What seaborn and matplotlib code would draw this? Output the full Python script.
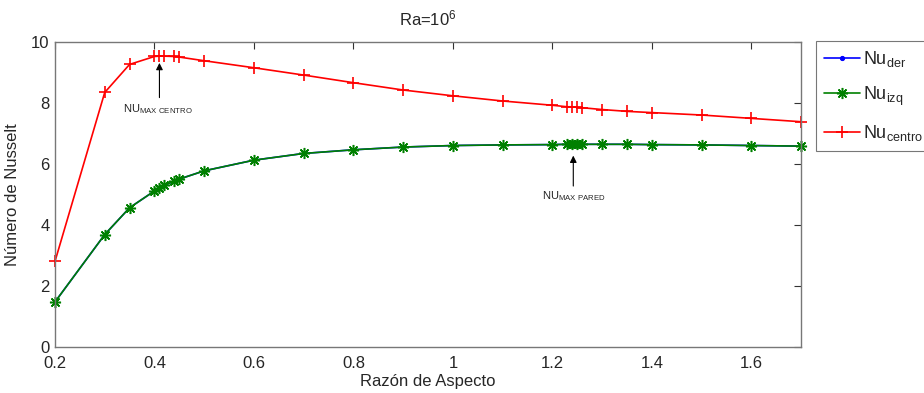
import matplotlib
matplotlib.use("Agg")
import matplotlib.pyplot as plt
import seaborn as sns
import pandas as pd
import numpy as np

# Aspect ratios (x) shared by all series
aspect = [0.2, 0.3, 0.35, 0.4, 0.41, 0.42, 0.44, 0.45, 0.5, 0.6, 0.7, 0.8, 0.9,
          1.0, 1.1, 1.2, 1.23, 1.24, 1.25, 1.26, 1.3, 1.35, 1.4, 1.5, 1.6, 1.7]

nu_centro = [2.82, 8.36, 9.28, 9.54, 9.55, 9.55, 9.54, 9.52, 9.40, 9.17, 8.93,
             8.68, 8.44, 8.25, 8.08, 7.94, 7.89, 7.89, 7.87, 7.86, 7.80, 7.74,
             7.70, 7.62, 7.51, 7.40]

nu_izq = [1.49, 3.70, 4.58, 5.13, 5.23, 5.32, 5.45, 5.52, 5.79, 6.14, 6.36,
          6.48, 6.57, 6.62, 6.64, 6.65, 6.66, 6.66, 6.66, 6.66, 6.66, 6.66,
          6.65, 6.64, 6.62, 6.60]

# right wall is symmetric with the left one
nu_der = list(nu_izq)

xticks = [0.2, 0.4, 0.6, 0.8, 1.0, 1.2, 1.4, 1.6]
xtick_labels = ["0.2", "0.4", "0.6", "0.8", "1", "1.2", "1.4", "1.6"]
yticks = [0, 2, 4, 6, 8, 10]

sns.set_style("white")
plt.rcParams['font.family'] = ['Liberation Sans', 'DejaVu Sans']
plt.rcParams['mathtext.fontset'] = 'custom'
plt.rcParams['mathtext.rm'] = 'Liberation Sans'
plt.rcParams['mathtext.it'] = 'Liberation Sans'

df = pd.DataFrame({"aspect": aspect, "der": nu_der, "izq": nu_izq, "centro": nu_centro})

fig = plt.figure(figsize=(9.24, 3.93), dpi=100)
ax = fig.add_axes([0.0595, 0.116, 0.8075, 0.776])

common = dict(linewidth=1.2, clip_on=False)
sns.lineplot(data=df, x="aspect", y="der", ax=ax, color="blue", marker=".",
             markersize=6, markeredgecolor="blue", label=r"Nu$_{\mathrm{der}}$", **common)
sns.lineplot(data=df, x="aspect", y="izq", ax=ax, color="green", marker=(8, 2, 0),
             markersize=8, markeredgecolor="green", markeredgewidth=1.1,
             label=r"Nu$_{\mathrm{izq}}$", **common)
sns.lineplot(data=df, x="aspect", y="centro", ax=ax, color="red", marker="+",
             markersize=9, markeredgecolor="red", markeredgewidth=1.2,
             label=r"Nu$_{\mathrm{centro}}$", **common)

ax.set_xlim(0.2, 1.7)
ax.set_ylim(0, 10)
ax.set_xticks(xticks)
ax.set_xticklabels(xtick_labels)
ax.set_yticks(yticks)
ax.tick_params(direction="in", top=True, right=True, labelsize=12, length=5,
               width=0.8, color="#333333")
ax.tick_params(axis="x", pad=6)
ax.tick_params(axis="y", pad=4)
for sp in ax.spines.values():
    sp.set_color("#777777")
    sp.set_linewidth(1.0)

ax.set_xlabel("Razón de Aspecto", fontsize=12, labelpad=2)
ax.set_ylabel("Número de Nusselt", fontsize=12, labelpad=8)
ax.set_title(r"Ra=10$^{6}$", fontsize=12, pad=12)

# annotations for the maxima
ax.annotate("", xy=(0.41, 9.42), xytext=(0.41, 8.1),
            arrowprops=dict(arrowstyle="-|>", color="black", lw=0.8, mutation_scale=10))
ax.text(0.337, 7.72, r"NU$_{\mathrm{MAX\ CENTRO}}$", fontsize=8)
ax.annotate("", xy=(1.242, 6.38), xytext=(1.242, 5.2),
            arrowprops=dict(arrowstyle="-|>", color="black", lw=0.8, mutation_scale=10))
ax.text(1.18, 4.85, r"NU$_{\mathrm{MAX\ PARED}}$", fontsize=8)

leg = ax.legend(loc="upper left", bbox_to_anchor=(1.02, 1.005), fontsize=13,
                frameon=True, fancybox=False, handlelength=2.0, borderpad=0.45,
                labelspacing=0.85, handletextpad=0.15, borderaxespad=0)
leg.get_frame().set_edgecolor("#555555")
leg.get_frame().set_linewidth(0.8)

fig.savefig("out.png", dpi=100)
